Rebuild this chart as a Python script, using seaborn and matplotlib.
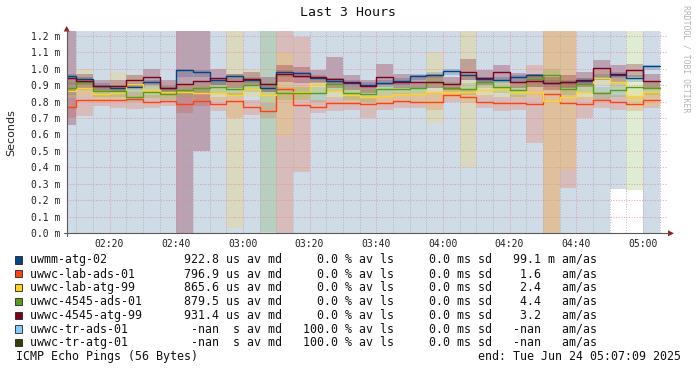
import numpy as np
import pandas as pd
import matplotlib
matplotlib.use("Agg")
import matplotlib.pyplot as plt
import matplotlib.dates as mdates
import matplotlib.ticker as mticker
from matplotlib.patches import Polygon, Rectangle
from matplotlib.lines import Line2D
import seaborn as sns

# ---------------- data ----------------
DAY = "2025-06-24"
window_start = "02:07:09"
window_end = "05:07:09"
first_bucket = "02:10"
last_bucket_end = "05:05"

series_names = ["uwmm-atg-02", "uwwc-lab-ads-01", "uwwc-lab-atg-99",
                "uwwc-4545-ads-01", "uwwc-4545-atg-99", "uwwc-tr-ads-01", "uwwc-tr-atg-01"]
series_colors = ["#004586", "#ff420e", "#ffd320", "#579d1c", "#7e0021", "#83caff", "#314004"]

# median RTT per 5-minute bucket (ms)
med_uwmm_atg_02 = [0.957, 0.935, 0.894, 0.880, 0.890, 0.917, 0.880, 0.989, 0.981, 0.930,
                   0.955, 0.930, 0.880, 0.977, 0.971, 0.945, 0.925, 0.910, 0.900, 0.911,
                   0.925, 0.957, 0.961, 0.988, 0.960, 0.935, 0.930, 0.947, 0.961, 0.911,
                   0.917, 0.925, 0.945, 0.963, 0.941, 1.014]
med_lab_ads_01 = [0.765, 0.807, 0.807, 0.809, 0.815, 0.797, 0.803, 0.785, 0.806, 0.785,
                  0.801, 0.768, 0.745, 0.874, 0.779, 0.769, 0.789, 0.793, 0.785, 0.793,
                  0.805, 0.799, 0.799, 0.840, 0.826, 0.795, 0.789, 0.793, 0.785, 0.846,
                  0.791, 0.785, 0.809, 0.797, 0.785, 0.809]
med_lab_atg_99 = [0.864, 0.880, 0.846, 0.850, 0.904, 0.870, 0.860, 0.860, 0.850, 0.850,
                  0.840, 0.876, 0.840, 0.854, 0.855, 0.905, 0.866, 0.840, 0.830, 0.834,
                  0.844, 0.846, 0.856, 0.860, 0.860, 0.870, 0.874, 0.860, 0.860, 0.803,
                  0.825, 0.856, 0.941, 0.920, 0.833, 0.860]
med_4545_ads_01 = [0.880, 0.917, 0.864, 0.864, 0.829, 0.856, 0.844, 0.868, 0.884, 0.890,
                   0.874, 0.900, 0.906, 0.850, 0.850, 0.850, 0.904, 0.850, 0.844, 0.874,
                   0.874, 0.880, 0.921, 0.885, 0.874, 0.917, 0.890, 0.870, 0.935, 0.961,
                   0.874, 0.904, 0.854, 0.870, 0.886, 0.880]
med_4545_atg_99 = [0.945, 0.925, 0.894, 0.894, 0.929, 0.947, 0.884, 0.904, 0.925, 0.945,
                   0.923, 0.939, 0.909, 0.967, 0.957, 0.951, 0.935, 0.917, 0.894, 0.951,
                   0.921, 0.921, 0.921, 0.905, 0.981, 0.941, 0.977, 0.921, 0.927, 0.911,
                   0.917, 0.931, 1.002, 0.965, 0.991, 0.925]

# smoke ranges (ms)
lo_uwmm_atg_02 = [0.90, 0.90, 0.87, 0.86, 0.87, 0.89, 0.86, 0.95, 0.95, 0.90, 0.93, 0.91,
                  0.86, 0.95, 0.94, 0.92, 0.90, 0.89, 0.88, 0.89, 0.90, 0.93, 0.94, 0.96,
                  0.93, 0.91, 0.91, 0.92, 0.94, 0.89, 0.89, 0.90, 0.93, 0.94, 0.92, 0.99]
hi_uwmm_atg_02 = [0.97, 0.95, 0.91, 0.90, 0.91, 0.93, 0.90, 1.00, 0.99, 0.94, 0.97, 0.95,
                  0.90, 0.99, 0.98, 0.96, 0.94, 0.93, 0.92, 0.93, 0.94, 0.97, 0.98, 1.00,
                  0.97, 0.95, 0.95, 0.96, 0.97, 0.93, 0.93, 0.94, 0.97, 0.98, 0.96, 1.02]
lo_lab_ads_01 = [0.70, 0.71, 0.77, 0.76, 0.755, 0.76, 0.77, 0.73, 0.77, 0.74, 0.70, 0.72,
                 0.70, 0.00, 0.37, 0.73, 0.74, 0.75, 0.70, 0.75, 0.76, 0.76, 0.75, 0.80,
                 0.79, 0.76, 0.74, 0.75, 0.55, 0.00, 0.277, 0.70, 0.76, 0.75, 0.74, 0.76]
hi_lab_ads_01 = [0.82, 0.88, 0.85, 0.85, 0.86, 0.84, 0.85, 0.83, 0.85, 0.83, 0.85, 0.81,
                 0.79, 1.30, 1.19, 0.81, 0.83, 0.84, 0.83, 0.84, 0.85, 0.84, 0.85, 0.89,
                 0.87, 0.84, 0.83, 0.84, 1.02, 1.30, 1.30, 0.83, 0.86, 0.84, 0.83, 0.86]
lo_lab_atg_99 = [0.82, 0.83, 0.80, 0.81, 0.86, 0.83, 0.82, 0.82, 0.81, 0.81, 0.03, 0.83,
                 0.80, 0.593, 0.81, 0.86, 0.82, 0.80, 0.79, 0.79, 0.80, 0.80, 0.67, 0.82,
                 0.40, 0.83, 0.83, 0.82, 0.82, 0.00, 0.384, 0.81, 0.90, 0.88, 0.79, 0.77]
hi_lab_atg_99 = [0.93, 0.995, 0.89, 0.98, 0.965, 0.92, 0.91, 0.91, 0.90, 0.90, 1.30, 0.99,
                 0.89, 1.10, 0.90, 0.96, 0.91, 0.89, 0.88, 0.88, 0.89, 0.89, 1.10, 0.91,
                 1.30, 0.92, 0.92, 0.91, 0.91, 1.30, 1.30, 0.90, 0.99, 0.97, 0.88, 0.91]
lo_4545_ads_01 = [0.84, 0.87, 0.83, 0.83, 0.80, 0.82, 0.81, 0.83, 0.85, 0.85, 0.84, 0.86,
                  0.01, 0.81, 0.81, 0.80, 0.86, 0.81, 0.80, 0.84, 0.84, 0.84, 0.88, 0.85,
                  0.84, 0.88, 0.85, 0.83, 0.89, 0.92, 0.84, 0.86, 0.81, 0.83, 0.26, 0.84]
hi_4545_ads_01 = [0.92, 0.95, 0.90, 0.90, 0.87, 0.89, 0.88, 0.90, 0.92, 0.93, 0.91, 0.94,
                  1.30, 0.89, 0.89, 0.89, 0.94, 0.89, 0.88, 0.91, 0.91, 0.92, 0.96, 0.92,
                  0.91, 0.95, 0.93, 0.91, 0.97, 1.00, 0.91, 0.94, 0.89, 0.91, 1.30, 0.92]
lo_4545_atg_99 = [0.66, 0.88, 0.86, 0.86, 0.89, 0.90, 0.85, 0.00, 0.50, 0.90, 0.88, 0.90,
                  0.86, 0.92, 0.91, 0.91, 0.88, 0.87, 0.85, 0.90, 0.88, 0.88, 0.88, 0.87,
                  0.93, 0.90, 0.93, 0.88, 0.89, 0.87, 0.88, 0.89, 0.95, 0.92, 0.95, 0.88]
hi_4545_atg_99 = [1.30, 0.97, 0.93, 0.93, 0.96, 1.00, 0.93, 1.30, 1.30, 1.00, 0.97, 0.98,
                  0.95, 1.02, 1.01, 0.99, 1.07, 0.96, 0.93, 1.03, 0.97, 0.96, 0.97, 0.95,
                  1.06, 0.99, 1.02, 0.975, 0.97, 0.95, 0.96, 0.98, 1.05, 1.02, 1.03, 0.97]

# loss shading of the unreachable targets (None = not drawn)
loss_lo = [0, 0, 0, 0, 0, 0, 0, 0, 0, 0, 0, 0, 0, 0, 0, 0, 0, 0, 0, 0, 0, 0, 0, 0,
           0, 0, 0, 0, 0, 0, 0, 0, 0, 0.27, None, 0]
loss_hi = [1.30] * 36

# legend statistics
stat_median = ["922.8", "796.9", "865.6", "879.5", "931.4", "-nan", "-nan"]
stat_median_unit = ["us", "us", "us", "us", "us", "s", "s"]
stat_loss = ["0.0", "0.0", "0.0", "0.0", "0.0", "100.0", "100.0"]
stat_sd = ["0.0", "0.0", "0.0", "0.0", "0.0", "0.0", "0.0"]
stat_amas = ["99.1", "1.6", "2.4", "4.4", "3.2", "-nan", "-nan"]
stat_amas_unit = ["m", "", "", "", "", "", ""]

medians = [med_uwmm_atg_02, med_lab_ads_01, med_lab_atg_99, med_4545_ads_01, med_4545_atg_99]
lows = [lo_uwmm_atg_02, lo_lab_ads_01, lo_lab_atg_99, lo_4545_ads_01, lo_4545_atg_99]
highs = [hi_uwmm_atg_02, hi_lab_ads_01, hi_lab_atg_99, hi_4545_ads_01, hi_4545_atg_99]

# ---------------- drawing ----------------
sns.set_style("white")
plt.rcParams["font.family"] = ["DejaVu Sans Mono", "DejaVu Sans"]

W, H = 697, 371
def fx(x):
    return x / W
def fy(y):
    return 1 - y / H

fig = plt.figure(figsize=(W / 100, H / 100), dpi=100)
fig.patch.set_facecolor("white")
ax = fig.add_axes([fx(66.7), fy(233.3), 600 / W, 202 / H])
ax.set_facecolor("none")

edges = pd.DatetimeIndex([pd.Timestamp(f"{DAY} {window_start}")]).append(
    pd.date_range(f"{DAY} {first_bucket}", f"{DAY} {last_bucket_end}", freq="5min"))
xe = mdates.date2num(edges.to_pydatetime())

def ext(v):
    return list(v) + [v[-1]]

bg_lo = [h if l is None else l for l, h in zip(loss_lo, loss_hi)]
ax.fill_between(xe, ext(bg_lo), ext(loss_hi), step="post", color="#cfdbe7", lw=0, zorder=0.5)

alphas = [0.2, 0.2, 0.2, 0.19, 0.26]
for lo, hi, c, a in zip(lows, highs, series_colors, alphas):
    ax.fill_between(xe, ext(lo), ext(hi), step="post", color=c, alpha=a, lw=0, zorder=1)

for med, c in zip(medians, series_colors):
    df = pd.DataFrame({"t": xe, "v": ext(med)})
    sns.lineplot(data=df, x="t", y="v", ax=ax, color=c, lw=1.0, drawstyle="steps-post",
                 estimator=None, legend=False, zorder=3)

x0 = mdates.date2num(pd.Timestamp(f"{DAY} {window_start}").to_pydatetime())
x1 = mdates.date2num(pd.Timestamp(f"{DAY} {window_end}").to_pydatetime())
ax.set_xlim(x0, x1)
ax.set_ylim(0, 1.2265)
ax.set_xlabel("")
ax.set_ylabel("")

ax.xaxis.set_major_locator(mdates.MinuteLocator(byminute=[0, 20, 40]))
ax.xaxis.set_minor_locator(mdates.MinuteLocator(byminute=range(0, 60, 5)))
ax.xaxis.set_major_formatter(mdates.DateFormatter("%H:%M"))
ax.yaxis.set_major_locator(mticker.MultipleLocator(0.1))
ax.yaxis.set_major_formatter(mticker.FuncFormatter(lambda v, p: f"{v:.1f} m"))

ax.set_axisbelow(False)
ax.grid(True, which="major", axis="both", color="#e58a8a", lw=0.72, ls=(0, (1, 1.6)), alpha=0.75)
ax.grid(True, which="minor", axis="x", color="#b0b0b0", lw=0.72, ls=(0, (1, 1.6)), alpha=0.9)

for s in ax.spines.values():
    s.set_visible(False)
ax.tick_params(axis="both", which="major", direction="out", length=2.2, width=0.7,
               color="#555555", labelsize=7.05, labelcolor="#222222")
ax.tick_params(axis="x", which="minor", direction="out", length=1.5, width=0.6, color="#777777")
ax.tick_params(axis="y", pad=2.4)
ax.tick_params(axis="x", which="major", pad=1.8)
for lab in ax.get_xticklabels() + ax.get_yticklabels():
    lab.set_family("DejaVu Sans Mono")

# axis lines and arrows
fig.add_artist(Line2D([fx(66.7), fx(66.7)], [fy(235.5), fy(30)], color="#5a5a5a", lw=0.8))
fig.add_artist(Line2D([fx(63.5), fx(669)], [fy(233.3), fy(233.3)], color="#5a5a5a", lw=0.8))
fig.add_artist(Polygon([[fx(63.7), fy(31.5)], [fx(69.7), fy(31.5)], [fx(66.7), fy(26)]],
                       closed=True, transform=fig.transFigure, color="#9b1b1b", lw=0))
fig.add_artist(Polygon([[fx(668), fy(230.3)], [fx(668), fy(236.3)], [fx(674), fy(233.3)]],
                       closed=True, transform=fig.transFigure, color="#9b1b1b", lw=0))

# texts
fig.text(fx(348.5), fy(13), "Last 3 Hours", ha="center", va="center", fontsize=9.5,
         family="DejaVu Sans Mono", color="#111111")
fig.text(fx(11), fy(133), "Seconds", rotation=90, ha="center", va="center", fontsize=8,
         family="DejaVu Sans", color="#222222")
fig.text(fx(686), fy(59), "RRDTOOL / TOBI OETIKER", rotation=270, ha="center", va="center",
         fontsize=5.9, family="DejaVu Sans Mono", color="#b4b4b4")

row_y = [260, 273.8, 287.6, 301.4, 315.2, 329, 342.8]
for i, name in enumerate(series_names):
    y = row_y[i]
    fig.add_artist(Rectangle((fx(15), fy(y + 3.6)), 7.2 / W, 7.2 / H, transform=fig.transFigure,
                             facecolor=series_colors[i], edgecolor="#222222", lw=0.6))
    line = (f"{name:<22}{stat_median[i]:>5} {stat_median_unit[i]:>2} av md   "
            f"{stat_loss[i]:>5} % av ls   {stat_sd[i]:>5} ms sd  "
            f"{stat_amas[i]:>5} {stat_amas_unit[i]:1} am/as")
    fig.text(fx(30), fy(y), line, ha="left", va="center", fontsize=8.37,
             family="DejaVu Sans Mono", color="#111111")

fig.text(fx(16), fy(356.5), "ICMP Echo Pings (56 Bytes)", ha="left", va="center",
         fontsize=8.37, family="DejaVu Sans Mono", color="#111111")
fig.text(fx(681), fy(356.5), "end: Tue Jun 24 05:07:09 2025", ha="right", va="center",
         fontsize=8.37, family="DejaVu Sans Mono", color="#111111")

fig.savefig("out.png", dpi=100, facecolor="white")
